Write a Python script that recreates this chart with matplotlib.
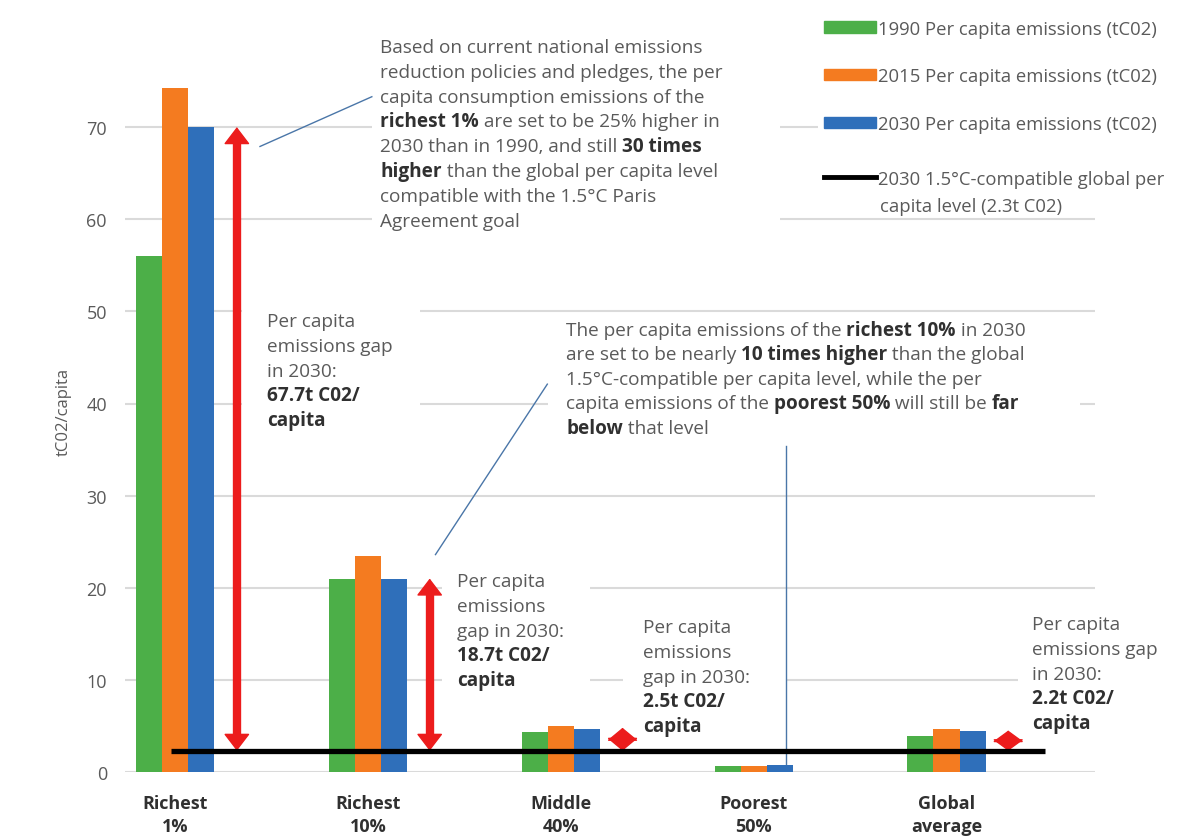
import matplotlib
matplotlib.use("Agg")
import matplotlib.pyplot as plt
from matplotlib import font_manager
from matplotlib.patches import Patch, Rectangle, FancyArrowPatch
from matplotlib.lines import Line2D
import numpy as np

# data
categories = ["Richest\n1%", "Richest\n10%", "Middle\n40%", "Poorest\n50%", "Global\naverage"]
em_1990 = [56.0, 21.0, 4.3, 0.6, 3.9]
em_2015 = [74.2, 23.5, 5.0, 0.7, 4.7]
em_2030 = [70.0, 21.0, 4.7, 0.8, 4.4]
target_2030 = 2.3
gaps = [67.7, 18.7, 2.5, None, 2.2]

series_labels = ["1990 Per capita emissions (tC02)",
                 "2015 Per capita emissions (tC02)",
                 "2030 Per capita emissions (tC02)"]
target_label = "2030 1.5°C-compatible global per"
target_label2 = "capita level (2.3t C02)"

top_note = [
    "Based on current national emissions",
    "reduction policies and pledges, the per",
    "capita consumption emissions of the",
    "**richest 1%** are set to be 25% higher in",
    "2030 than in 1990, and still **30 times**",
    "**higher** than the global per capita level",
    "compatible with the 1.5°C Paris",
    "Agreement goal",
]
mid_note = [
    "The per capita emissions of the **richest 10%** in 2030",
    "are set to be nearly **10 times higher** than the global",
    "1.5°C-compatible per capita level, while the per",
    "capita emissions of the **poorest 50%** will still be **far**",
    "**below** that level",
]

GREEN, ORANGE, BLUE = "#4caf48", "#f47b20", "#2f6fba"
RED = "#ec1c1c"
GREY_TXT = "#5a5a5a"
DARK_TXT = "#303030"
LEADER = "#4a76a8"

avail = {f.name for f in font_manager.fontManager.ttflist}
family = next(f for f in ["Open Sans", "Roboto", "DejaVu Sans"] if f in avail)
plt.rcParams["font.family"] = [family, "DejaVu Sans"]

BODY = 13.7
LEG = 13.3
W, H = 1189, 837
fig = plt.figure(figsize=(W / 100, H / 100), dpi=100)
ax = fig.add_axes([125 / W, 1 - 773 / H, 970 / W, 737 / H])

x = np.arange(len(categories))
bw = 0.135
ax.bar(x - bw, em_1990, bw, color=GREEN, zorder=2)
ax.bar(x, em_2015, bw, color=ORANGE, zorder=2)
ax.bar(x + bw, em_2030, bw, color=BLUE, zorder=2)

ax.set_xlim(-0.26, 4.77)
ax.set_ylim(0, 80)
ax.set_yticks(range(0, 80, 10))
ax.grid(axis="y", color="#dadada", lw=1.5)
ax.set_axisbelow(True)
for s in ax.spines.values():
    s.set_visible(False)
ax.tick_params(length=0, labelsize=13, labelcolor=GREY_TXT)
ax.tick_params(axis="y", pad=13)
ax.tick_params(axis="x", pad=16)
ax.set_xticks(x)
ax.set_xticklabels(categories, fontweight="bold", color=DARK_TXT, linespacing=1.35)
ax.set_ylabel("tC02/capita", fontsize=12, color=GREY_TXT)
ax.yaxis.set_label_coords(-0.055, 0.49)

# 1.5C compatible level
ax.hlines(target_2030, -0.02, 4.51, color="black", lw=3.8, zorder=5)

# gap arrows
off = 0.32
ms = 20
px_per_unit = ax.transData.transform((0, 1))[1] - ax.transData.transform((0, 0))[1]
for xi, g in zip(x, gaps):
    if g is None:
        continue
    xa = xi + off
    top = target_2030 + g
    if g > 5:
        ax.plot([xa, xa], [target_2030 + 1.0, top - 1.0], color=RED, lw=6,
                solid_capstyle="butt", zorder=4)
        hw = 0.42
    else:
        hw = 0.5
    hl = min(0.55, g * px_per_unit * 0.72 / 2 / ms)
    arr = FancyArrowPatch((xa, target_2030), (xa, top),
                          arrowstyle=f"<|-|>,head_length={hl:.3f},head_width={hw}",
                          mutation_scale=ms, color=RED, lw=1,
                          shrinkA=0, shrinkB=0, zorder=4)
    ax.add_patch(arr)

# leader lines
ax.plot([0.44, 1.02], [67.9, 73.3], color=LEADER, lw=1, zorder=4)
ax.plot([1.35, 1.93], [23.6, 42.1], color=LEADER, lw=1, zorder=4)
ax.plot([3.17, 3.17], [0.9, 35.4], color=LEADER, lw=1, zorder=4)

# legend (bars, then the target line on its own)
leg_kw = dict(loc="upper left", bbox_transform=fig.transFigure, frameon=True,
              facecolor="white", edgecolor="none", framealpha=1, fontsize=LEG,
              handlelength=2.85, handleheight=0.55, handletextpad=0.12,
              borderaxespad=0, borderpad=0.3)
leg1 = ax.legend([Patch(color=c) for c in (GREEN, ORANGE, BLUE)], series_labels,
                 bbox_to_anchor=(818 / W, 1 - 15 / H), labelspacing=1.6, **leg_kw)
ax.add_artist(leg1)
leg2 = ax.legend([Line2D([0], [0], color="black", lw=3.5)], [target_label],
                 bbox_to_anchor=(818 / W, 1 - 165 / H), **leg_kw)
for lg in (leg1, leg2):
    lg.set_zorder(6)
    for t in lg.get_texts():
        t.set_color(GREY_TXT)

renderer = fig.canvas.get_renderer()


def seg_width(s, size, weight):
    a = ax.text(0, 0, s + "|", fontsize=size, fontweight=weight, transform=fig.transFigure)
    b = ax.text(0, 0, "|", fontsize=size, fontweight=weight, transform=fig.transFigure)
    w = a.get_window_extent(renderer).width - b.get_window_extent(renderer).width
    a.remove()
    b.remove()
    return w


def rich_block(x0, y0, step, lines, box_x, size=BODY, pad=7):
    # text lines with **bold** runs, on a white box that hides the grid
    ys = []
    for i, line in enumerate(lines):
        cx = x0
        yb = y0 + i * step
        parts = line.split("**")
        for k, part in enumerate(parts):
            if not part:
                continue
            bold = k % 2 == 1
            weight = "bold" if bold else "normal"
            t = ax.text(cx / W, 1 - yb / H, part, fontsize=size, fontweight=weight,
                        color=DARK_TXT if bold else GREY_TXT, va="baseline", ha="left",
                        transform=fig.transFigure, zorder=7)
            bb = t.get_window_extent(renderer)
            ys += [bb.y0, bb.y1]
            cx += seg_width(part, size, weight)
    x_left, x_right = box_x
    rect = Rectangle((x_left, min(ys) - pad), x_right - x_left,
                     max(ys) - min(ys) + 2 * pad, transform=None, facecolor="white",
                     edgecolor="none", zorder=1.5, clip_on=False)
    ax.add_patch(rect)


rich_block(380, 53, 24.8, top_note, (372, 780))
rich_block(566, 336, 24.5, mid_note, (548, 1080))
gap_pos = [(267, 327, ["Per capita", "emissions gap", "in 2030:"], (242, 420)),
           (457, 587, ["Per capita", "emissions", "gap in 2030:"], (442, 590)),
           (643, 633, ["Per capita", "emissions", "gap in 2030:"], (623, 786)),
           None,
           (1032, 630, ["Per capita", "emissions gap", "in 2030:"], (1018, 1189))]
for g, p in zip(gaps, gap_pos):
    if g is None:
        continue
    gx, gy, head, box_x = p
    rich_block(gx, gy, 24.8, head + [f"**{g}t C02/**", "**capita**"], box_x)

ax.text(880 / W, 1 - 212 / H, target_label2, fontsize=LEG, color=GREY_TXT,
        va="baseline", ha="left", transform=fig.transFigure, zorder=7)

fig.savefig("out.png", dpi=100)
